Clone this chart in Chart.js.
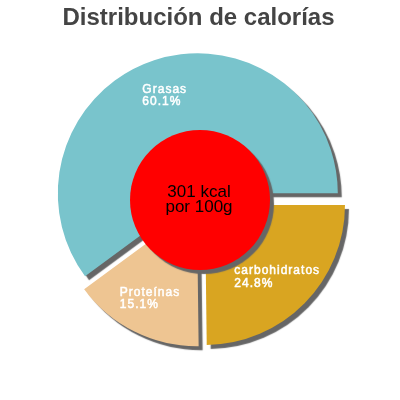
<!DOCTYPE html>
<html>
<head>
<meta charset="utf-8">
<script src="https://cdn.jsdelivr.net/npm/chart.js@4"></script>
<style>
  html, body { margin: 0; padding: 0; background: #fff; }
  #wrap { width: 400px; height: 400px; position: relative; }
</style>
</head>
<body>
<div id="wrap"><canvas id="pie"></canvas></div>
<script>
// ─── Data ────────────────────────────────────────────────────────────────────
const title = 'Distribución de calorías';
const categories = ['carbohidratos', 'Proteínas', 'Grasas'];
const percentages = [24.8, 15.1, 60.1];
const sliceColors = ['#d9a521', '#eec592', '#79c4cc'];
const centerLines = ['301 kcal', 'por 100g'];

const FONT = '"Liberation Sans", Arial, sans-serif';
const EXPLODE = 7;

// Push each slice out from the centre along its middle angle
const explodePlugin = {
  id: 'explode',
  afterDatasetUpdate(chart, args) {
    const meta = chart.getDatasetMeta(args.index);
    meta.data.forEach(arc => {
      const mid = (arc.startAngle + arc.endAngle) / 2;
      arc.x += Math.cos(mid) * EXPLODE;
      arc.y += Math.sin(mid) * EXPLODE;
    });
  },
};

// Hard drop shadow behind slices
const shadowPlugin = {
  id: 'shadow',
  beforeDatasetsDraw(chart) {
    const ctx = chart.ctx;
    ctx.save();
    ctx.shadowColor = '#666666';
    ctx.shadowOffsetX = 4;
    ctx.shadowOffsetY = 4;
    ctx.shadowBlur = 1;
  },
  afterDatasetsDraw(chart) {
    chart.ctx.restore();
  },
};

// Red centre disc, labels, title
const decorPlugin = {
  id: 'decor',
  afterDatasetsDraw(chart) {
    const ctx = chart.ctx;
    const arcs = chart.getDatasetMeta(0).data;
    const area = chart.chartArea;
    const cx = (area.left + area.right) / 2;
    const cy = (area.top + area.bottom) / 2;
    const r = arcs[0].outerRadius;

    // centre disc
    ctx.save();
    ctx.shadowColor = '#666666';
    ctx.shadowOffsetX = 4;
    ctx.shadowOffsetY = 4;
    ctx.shadowBlur = 1;
    ctx.fillStyle = '#ff0000';
    ctx.beginPath();
    ctx.arc(cx, cy, r * 0.5, 0, Math.PI * 2);
    ctx.fill();
    ctx.restore();

    // centre text
    ctx.save();
    ctx.fillStyle = '#000';
    ctx.font = `17px ${FONT}`;
    ctx.textAlign = 'center';
    ctx.textBaseline = 'alphabetic';
    ctx.fillText(centerLines[0], cx - 1, cy - 3.3);
    ctx.fillText(centerLines[1], cx - 1, cy + 11.7);
    ctx.restore();

    // slice labels (slightly heavier than regular, like the original)
    ctx.save();
    ctx.fillStyle = '#ffffff';
    ctx.strokeStyle = '#ffffff';
    ctx.lineWidth = 0.5;
    ctx.font = `12px ${FONT}`;
    ctx.letterSpacing = '1px';
    ctx.textAlign = 'left';
    ctx.textBaseline = 'middle';
    arcs.forEach((arc, i) => {
      const mid = (arc.startAngle + arc.endAngle) / 2;
      const lx = arc.x + Math.cos(mid) * arc.outerRadius * 0.735;
      const ly = arc.y + Math.sin(mid) * arc.outerRadius * 0.735;
      const lines = [categories[i], percentages[i].toFixed(1) + '%'];
      const w = Math.max(...lines.map(t => ctx.measureText(t).width)) - 1;
      const x0 = lx - w / 2 - 1.5;
      ctx.fillText(lines[0], x0, ly - 6.2);
      ctx.strokeText(lines[0], x0, ly - 6.2);
      ctx.fillText(lines[1], x0, ly + 6.3);
      ctx.strokeText(lines[1], x0, ly + 6.3);
    });
    ctx.restore();

    // title
    ctx.save();
    ctx.fillStyle = '#444444';
    ctx.font = `bold 24px ${FONT}`;
    ctx.textAlign = 'center';
    ctx.textBaseline = 'alphabetic';
    ctx.fillText(title, 198.5, 25);
    ctx.restore();
  },
};

new Chart(document.getElementById('pie').getContext('2d'), {
  type: 'pie',
  data: {
    labels: categories,
    datasets: [{
      data: percentages,
      backgroundColor: sliceColors,
      borderWidth: 0,
    }],
  },
  options: {
    responsive: true,
    maintainAspectRatio: false,
    animation: false,
    rotation: 90,
    radius: 140,
    layout: { padding: 0 },
    events: [],
    plugins: {
      legend: { display: false },
      title: { display: false },
      tooltip: { enabled: false },
    },
  },
  plugins: [explodePlugin, shadowPlugin, decorPlugin],
});
</script>
</body>
</html>
